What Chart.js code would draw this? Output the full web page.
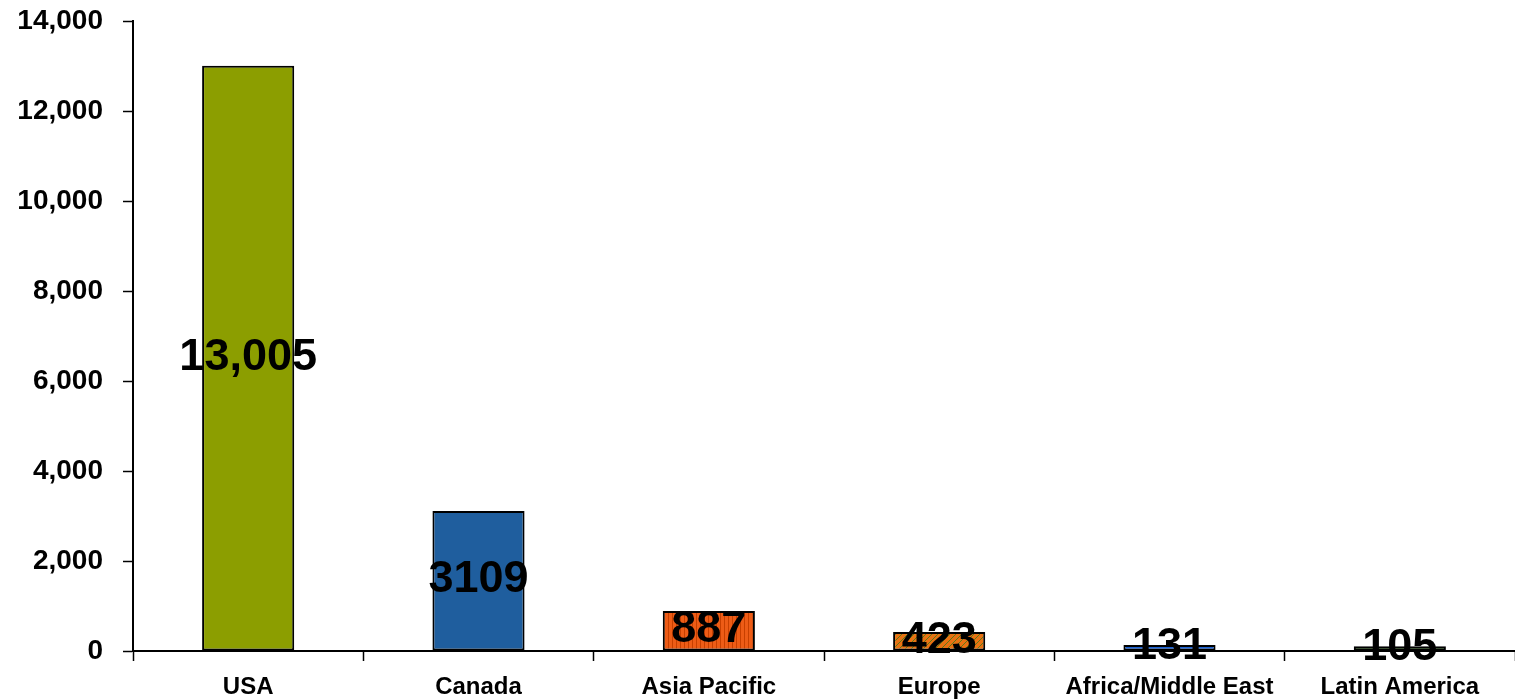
<!DOCTYPE html>
<html>
<head>
<meta charset="utf-8">
<title>Regional totals</title>
<script src="https://cdn.jsdelivr.net/npm/chart.js@4.4.1/dist/chart.umd.min.js"></script>
<style>
  html, body { margin: 0; padding: 0; background: #ffffff; }
  #wrap { width: 1515px; height: 699px; position: relative; }
</style>
</head>
<body>
<div id="wrap"><canvas id="chart"></canvas></div>
<script>
// Regions and their totals
const regions = ['USA', 'Canada', 'Asia Pacific', 'Europe', 'Africa/Middle East', 'Latin America'];
const totals = [13005, 3109, 887, 423, 131, 105];
const yTicks = [0, 2000, 4000, 6000, 8000, 10000, 12000, 14000];

const FONT = '"Liberation Sans", Arial, sans-serif';

// Small repeating fills for the textured bars
function stripePattern(base, stripe) {
  const c = document.createElement('canvas');
  c.width = 4; c.height = 4;
  const g = c.getContext('2d');
  g.fillStyle = base; g.fillRect(0, 0, 4, 4);
  g.fillStyle = stripe; g.fillRect(0, 0, 1, 4);
  return g.createPattern(c, 'repeat');
}
function diagonalPattern(base, stripe) {
  const c = document.createElement('canvas');
  c.width = 6; c.height = 6;
  const g = c.getContext('2d');
  g.fillStyle = base; g.fillRect(0, 0, 6, 6);
  g.strokeStyle = stripe; g.lineWidth = 1;
  g.beginPath();
  g.moveTo(-1, 7); g.lineTo(7, -1);
  g.moveTo(-1, 1); g.lineTo(1, -1);
  g.moveTo(5, 7); g.lineTo(7, 5);
  g.stroke();
  return g.createPattern(c, 'repeat');
}

const fills = [
  '#8c9e00',
  '#1f5e9e',
  stripePattern('#ee5c16', '#c84000'),
  diagonalPattern('#e87212', '#5a7a1a'),
  '#1a62d4',
  '#2f7d0c'
];

function fmt(n) {
  return n >= 10000 ? n.toLocaleString('en-US') : String(n);
}

// Value written across the middle of each bar
const centerLabels = {
  id: 'centerLabels',
  afterDatasetsDraw(chart) {
    const ctx = chart.ctx;
    const meta = chart.getDatasetMeta(0);
    const y = chart.scales.y;
    ctx.save();
    ctx.font = 'bold 45px ' + FONT;
    ctx.fillStyle = '#000000';
    ctx.textAlign = 'center';
    ctx.textBaseline = 'middle';
    meta.data.forEach((bar, i) => {
      const v = totals[i];
      ctx.fillText(fmt(v), bar.x, y.getPixelForValue(v / 2) - 1);
    });
    ctx.restore();
  }
};

new Chart(document.getElementById('chart'), {
  type: 'bar',
  data: {
    labels: regions,
    datasets: [{
      data: totals,
      backgroundColor: fills,
      borderColor: '#000000',
      borderWidth: 2,
      borderSkipped: false,
      barPercentage: 0.4,
      categoryPercentage: 1.0
    }]
  },
  options: {
    responsive: true,
    maintainAspectRatio: false,
    animation: false,
    layout: { padding: { top: 21, right: 0, bottom: 0, left: 0 } },
    plugins: { legend: { display: false }, tooltip: { enabled: false } },
    scales: {
      x: {
        grid: {
          display: true, drawOnChartArea: false, drawTicks: true,
          tickLength: 10, tickWidth: 1.5, tickColor: '#000000', offset: true
        },
        border: { display: true, color: '#000000', width: 2 },
        ticks: {
          color: '#000000', padding: 14, maxRotation: 0, autoSkip: false,
          font: { family: FONT, size: 24, weight: 'bold', lineHeight: 1 }
        },
        afterFit(scale) { scale.height = 48; scale.paddingLeft = 0; scale.paddingRight = 0; }
      },
      y: {
        min: 0, max: 14000,
        afterBuildTicks(scale) { scale.ticks = yTicks.map(v => ({ value: v })); },
        grid: {
          display: true, drawOnChartArea: false, drawTicks: true,
          tickLength: 10, tickWidth: 1.5, tickColor: '#000000'
        },
        border: { display: true, color: '#000000', width: 2 },
        ticks: {
          color: '#000000', padding: 20,
          font: { family: FONT, size: 28, weight: 'bold' },
          callback: v => v.toLocaleString('en-US')
        },
        afterFit(scale) { scale.width = 133; scale.paddingTop = 0; scale.paddingBottom = 0; }
      }
    }
  },
  plugins: [centerLabels]
});
</script>
</body>
</html>
